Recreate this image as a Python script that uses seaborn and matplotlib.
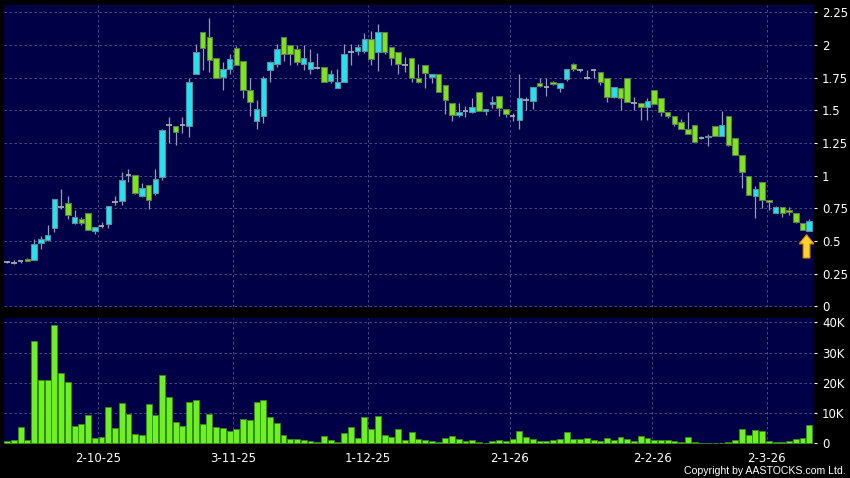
import numpy as np
import pandas as pd
import matplotlib
matplotlib.use("Agg")
import matplotlib.pyplot as plt
import seaborn as sns
from matplotlib.patches import FancyArrow

# daily candles, oldest first
opens = [0.339, 0.334, 0.345, 0.360, 0.357, 0.487, 0.505, 0.603, 0.761, 0.791,
         0.640, 0.671, 0.717, 0.577, 0.612, 0.633, 0.799, 0.804, 1.003, 1.008,
         0.845, 0.932, 0.868, 0.990, 1.386, 1.381, 1.386, 1.381, 1.781, 2.100,
         2.062, 1.902, 1.751, 1.812, 1.978, 1.879, 1.654, 1.416, 1.455, 1.807,
         1.853, 2.057, 1.998, 1.965, 1.850, 1.812, 1.820, 1.833, 1.720, 1.667,
         1.713, 1.942, 1.950, 1.953, 2.042, 1.942, 2.100, 1.981, 1.942, 1.845,
         1.897, 1.743, 1.845, 1.751, 1.774, 1.692, 1.552, 1.463, 1.493, 1.488,
         1.636, 1.493, 1.547, 1.611, 1.506, 1.457, 1.429, 1.582, 1.572, 1.705,
         1.680, 1.717, 1.667, 1.736, 1.851, 1.805, 1.750, 1.805, 1.794, 1.743,
         1.603, 1.667, 1.743, 1.552, 1.552, 1.526, 1.654, 1.590, 1.483, 1.457,
         1.411, 1.353, 1.386, 1.289, 1.292, 1.378, 1.302, 1.455, 1.284, 1.161,
         0.995, 0.842, 0.952, 0.810, 0.717, 0.760, 0.735, 0.717, 0.638, 0.577]
highs = [0.345, 0.355, 0.350, 0.370, 0.518, 0.536, 0.620, 0.821, 0.900, 0.842,
         0.740, 0.680, 0.717, 0.610, 0.645, 0.771, 0.842, 1.029, 1.054, 1.008,
         0.940, 0.932, 1.054, 1.360, 1.445, 1.381, 1.450, 1.749, 2.004, 2.100,
         2.203, 1.902, 1.871, 1.930, 1.990, 1.879, 1.743, 1.582, 1.760, 1.880,
         2.006, 2.057, 1.998, 2.000, 1.998, 1.965, 1.940, 1.833, 1.807, 1.812,
         2.006, 2.006, 2.006, 2.093, 2.108, 2.156, 2.100, 1.981, 1.942, 1.909,
         1.897, 1.853, 1.845, 1.780, 1.774, 1.692, 1.552, 1.552, 1.530, 1.590,
         1.636, 1.510, 1.608, 1.611, 1.506, 1.480, 1.777, 1.600, 1.680, 1.743,
         1.743, 1.725, 1.710, 1.815, 1.860, 1.815, 1.810, 1.810, 1.794, 1.743,
         1.680, 1.667, 1.750, 1.605, 1.552, 1.590, 1.654, 1.590, 1.483, 1.457,
         1.430, 1.483, 1.386, 1.300, 1.320, 1.378, 1.493, 1.455, 1.284, 1.161,
         0.995, 0.920, 0.952, 0.812, 0.765, 0.760, 0.760, 0.717, 0.638, 0.671]
lows = [0.333, 0.322, 0.335, 0.344, 0.357, 0.441, 0.500, 0.569, 0.748, 0.671,
        0.633, 0.620, 0.587, 0.551, 0.600, 0.600, 0.775, 0.779, 0.952, 0.860,
        0.837, 0.748, 0.850, 0.965, 1.249, 1.237, 1.327, 1.296, 1.781, 1.807,
        1.794, 1.743, 1.654, 1.781, 1.845, 1.590, 1.455, 1.360, 1.399, 1.718,
        1.832, 1.879, 1.845, 1.845, 1.807, 1.776, 1.815, 1.713, 1.710, 1.667,
        1.713, 1.845, 1.920, 1.940, 1.845, 1.799, 1.930, 1.845, 1.781, 1.794,
        1.718, 1.705, 1.667, 1.705, 1.641, 1.475, 1.419, 1.450, 1.450, 1.480,
        1.493, 1.463, 1.520, 1.455, 1.450, 1.419, 1.353, 1.500, 1.506, 1.680,
        1.610, 1.690, 1.640, 1.720, 1.800, 1.790, 1.740, 1.750, 1.690, 1.560,
        1.590, 1.500, 1.560, 1.500, 1.424, 1.424, 1.547, 1.455, 1.440, 1.380,
        1.353, 1.317, 1.258, 1.280, 1.227, 1.302, 1.302, 1.227, 1.156, 0.909,
        0.850, 0.679, 0.750, 0.735, 0.717, 0.684, 0.700, 0.640, 0.587, 0.577]
closes = [0.339, 0.334, 0.345, 0.344, 0.480, 0.518, 0.549, 0.821, 0.761, 0.702,
          0.684, 0.640, 0.587, 0.610, 0.612, 0.771, 0.799, 0.970, 1.003, 0.868,
          0.906, 0.816, 0.977, 1.348, 1.386, 1.330, 1.386, 1.713, 1.942, 1.973,
          1.884, 1.743, 1.817, 1.894, 1.845, 1.654, 1.560, 1.513, 1.743, 1.866,
          1.965, 1.934, 1.934, 1.866, 1.902, 1.871, 1.820, 1.713, 1.781, 1.713,
          1.934, 1.942, 1.981, 2.042, 1.889, 2.100, 1.942, 1.897, 1.850, 1.845,
          1.743, 1.718, 1.782, 1.774, 1.641, 1.582, 1.463, 1.488, 1.493, 1.521,
          1.493, 1.506, 1.560, 1.514, 1.475, 1.457, 1.590, 1.582, 1.674, 1.685,
          1.680, 1.703, 1.705, 1.812, 1.812, 1.805, 1.750, 1.805, 1.713, 1.603,
          1.675, 1.590, 1.560, 1.552, 1.526, 1.572, 1.547, 1.483, 1.457, 1.393,
          1.353, 1.317, 1.258, 1.289, 1.302, 1.302, 1.386, 1.233, 1.156, 1.028,
          0.850, 0.901, 0.812, 0.800, 0.760, 0.717, 0.722, 0.646, 0.587, 0.651]
# volume in thousands of shares
volume_k = [0.8, 1.0, 5.3, 1.1, 33.8, 20.9, 20.9, 39.1, 23.1, 20.2,
            5.6, 6.4, 9.5, 1.9, 2.0, 12.0, 5.1, 13.4, 9.7, 3.0,
            2.8, 13.0, 9.4, 22.7, 15.3, 7.1, 5.8, 13.8, 14.3, 6.3,
            9.6, 5.5, 5.1, 4.0, 4.8, 8.0, 7.6, 13.8, 14.3, 8.7,
            6.7, 2.8, 1.4, 1.4, 1.1, 0.9, 0.3, 2.4, 1.1, 0.4,
            3.4, 5.4, 1.8, 8.6, 4.8, 9.0, 2.9, 2.1, 4.7, 1.0,
            3.7, 1.3, 1.1, 0.8, 0.3, 1.9, 2.3, 1.4, 0.8, 1.0,
            0.4, 0.1, 0.7, 1.2, 0.8, 1.5, 4.0, 2.2, 1.4, 0.9,
            0.8, 1.1, 1.4, 3.6, 1.5, 1.3, 1.8, 1.1, 0.9, 1.8,
            1.1, 2.1, 1.5, 0.7, 2.4, 1.7, 1.1, 1.1, 1.1, 0.8,
            0.4, 2.2, 0.6, 0.2, 0.05, 0.2, 0.05, 0.6, 1.0, 4.7,
            2.9, 4.4, 4.2, 0.9, 0.4, 0.4, 0.8, 1.5, 1.9, 6.1]

date_labels = ["2-10-25", "3-11-25", "1-12-25", "2-1-26", "2-2-26", "2-3-26"]
date_pos = [13.5, 33.5, 53.5, 74.6, 95.7, 112.7]
price_ticks = [0, 0.25, 0.5, 0.75, 1, 1.25, 1.5, 1.75, 2, 2.25]
price_labels = ["0", "0.25", "0.5", "0.75", "1", "1.25", "1.5", "1.75", "2", "2.25"]
vol_ticks = [0, 10, 20, 30, 40]
vol_labels = ["0", "10K", "20K", "30K", "40K"]

NAVY = "#000046"
CYAN = "#22E3F0"
GREEN = "#7EE41E"
VOL_GREEN = "#6CF224"
GRID = "#55558f"
WICK = "#9a9aae"

sns.set_theme(style="dark", rc={"figure.facecolor": "black", "axes.facecolor": NAVY})
plt.rcParams["font.family"] = ["DejaVu Sans"]

o = np.array(opens)
h = np.array(highs)
l = np.array(lows)
c = np.array(closes)
x = np.arange(len(o))
up = c > o
down = c < o
flat = c == o

W, H = 850, 478
fig = plt.figure(figsize=(8.5, 4.78), dpi=100)
ax = fig.add_axes([4 / W, 1 - 307 / H, 810.3 / W, 302 / H])
axv = fig.add_axes([4 / W, 1 - 444 / H, 810.3 / W, 125.7 / H])

# --- price panel ---
ax.vlines(x, l, h, color=WICK, linewidth=0.9, zorder=2)
bottom = np.minimum(o, c)
height = np.abs(c - o)
ax.bar(x[up], height[up], bottom=bottom[up], width=0.82, color=CYAN,
       edgecolor="#5f8c96", linewidth=0.8, zorder=3)
ax.bar(x[down], height[down], bottom=bottom[down], width=0.82, color=GREEN,
       edgecolor="#5d7a4a", linewidth=0.8, zorder=3)
ax.hlines(o[flat], x[flat] - 0.41, x[flat] + 0.41, color="#a8a8b8", linewidth=1.3, zorder=3)

# marker arrow under the last candle
ax.add_patch(FancyArrow(118.6, 0.37, 0, 0.178, width=1.0, head_width=2.2,
                        head_length=0.07, length_includes_head=True,
                        facecolor="#FFD030", edgecolor="#D99000", linewidth=0.8, zorder=4))

ax.set_xlim(-0.47, 119.75)
ax.set_ylim(-0.005, 2.305)
ax.set_xticks(date_pos)
ax.set_yticks(price_ticks)
ax.set_yticklabels(price_labels)

# --- volume panel ---
df = pd.DataFrame({"day": x, "vol": volume_k})
sns.barplot(data=df, x="day", y="vol", ax=axv, color=VOL_GREEN, saturation=1,
            edgecolor="#3a8a12", linewidth=0.6, width=0.88, zorder=3)
axv.set_xlim(-0.47, 119.75)
axv.set_ylim(-0.2, 41.3)
axv.set_xticks(date_pos)
axv.set_xticklabels(date_labels)
axv.set_yticks(vol_ticks)
axv.set_yticklabels(vol_labels)
axv.set_xlabel("")
axv.set_ylabel("")

for a in (ax, axv):
    a.set_facecolor(NAVY)
    a.set_axisbelow(True)
    a.grid(True, color=GRID, linestyle=(0, (3, 3)), linewidth=0.6)
    for s in a.spines.values():
        s.set_visible(False)
    a.yaxis.tick_right()
    a.tick_params(axis="y", colors="white", length=2.5, width=0.8, pad=3,
                  labelsize=8.5, labelcolor="white")
    a.tick_params(axis="x", colors="white", length=2, width=0.8, pad=4,
                  labelsize=8.5, labelcolor="white")
ax.tick_params(axis="x", length=0, labelbottom=False)

fig.text(846 / W, 1 - 470.5 / H, "Copyright by AASTOCKS.com Ltd.", color="white",
         ha="right", va="center", fontsize=7.6, family=["Liberation Sans", "DejaVu Sans"])

fig.savefig("out.png", dpi=100, facecolor="black")
